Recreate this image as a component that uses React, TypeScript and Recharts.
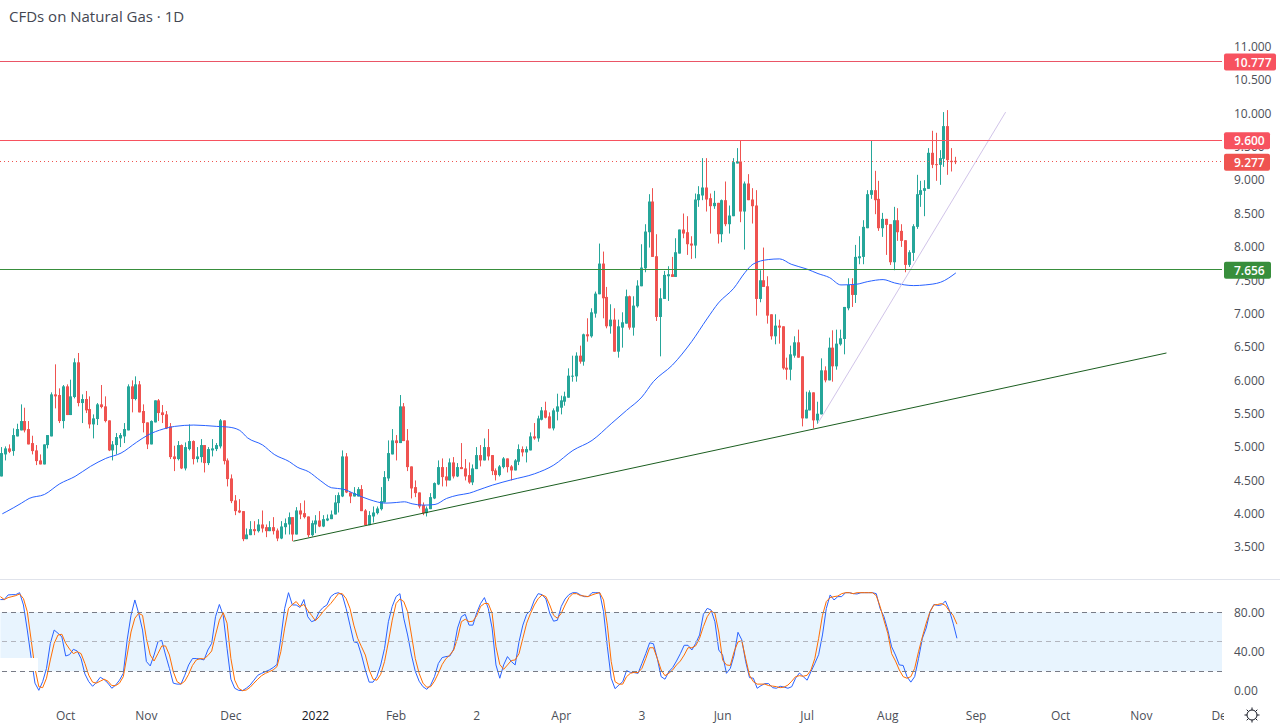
import { Bar, ComposedChart, Line, ReferenceArea, ReferenceLine, XAxis, YAxis } from "recharts"

const opens = [
  4.56,4.89,4.98,4.94,5.16,5.25,5.39,5.27,5.06,4.95,
  4.80,4.74,5.03,5.16,5.79,5.78,5.39,5.91,5.48,5.75,
  6.27,5.66,5.72,5.57,5.34,5.42,5.64,5.61,5.40,4.95,
  5.03,5.13,5.16,5.25,5.91,5.72,5.94,5.54,5.37,5.04,
  5.37,5.70,5.52,5.49,5.31,4.86,4.82,5.03,4.68,4.97,
  5.09,4.82,4.85,5.03,4.76,4.95,4.97,5.01,5.40,4.80,
  4.53,4.20,4.05,4.04,3.62,3.68,3.77,3.74,3.84,3.80,
  3.74,3.80,3.75,3.63,3.80,3.84,3.95,3.69,4.05,4.01,
  3.96,3.68,3.84,3.90,3.81,3.90,3.92,3.99,4.16,4.26,
  4.86,4.32,4.26,4.26,4.37,4.05,3.83,3.96,4.01,4.07,
  4.17,4.53,4.89,5.10,5.06,5.61,5.10,4.71,4.40,4.32,
  4.13,4.01,4.07,4.23,4.44,4.70,4.56,4.50,4.77,4.56,
  4.70,4.68,4.58,4.47,4.67,4.88,4.80,5.00,4.88,4.65,
  4.58,4.70,4.83,4.71,4.65,4.78,4.97,4.92,4.95,5.16,
  5.13,5.41,5.55,5.46,5.28,5.53,5.59,5.68,5.74,6.06,
  6.06,6.37,6.28,6.69,6.66,7.00,7.29,7.75,7.25,6.81,
  6.91,6.43,6.79,6.85,7.26,6.79,7.11,7.41,7.68,8.22,
  8.68,7.86,6.95,7.22,7.56,7.59,7.55,7.90,8.26,8.22,
  8.05,8.02,8.70,8.77,8.89,8.73,8.61,8.66,8.19,8.70,
  8.34,8.46,9.25,9.28,8.53,8.95,8.71,8.62,7.22,7.50,
  7.41,6.99,6.66,6.82,6.81,6.19,6.16,6.37,6.57,6.36,
  5.43,5.55,5.82,5.40,5.49,6.15,6.00,6.49,6.21,6.54,
  6.62,7.08,7.43,7.28,7.83,7.85,8.28,8.78,8.85,8.72,
  8.28,8.42,8.34,7.77,8.40,8.24,8.10,7.73,7.91,8.30,
  8.78,8.84,8.87,9.41,9.24,9.23,9.32,9.81,9.29,9.29,
]
const highs = [
  5.00,5.01,5.04,5.28,5.35,5.64,5.59,5.39,5.17,5.03,
  4.89,5.04,5.18,5.82,6.24,5.88,5.93,5.94,6.01,6.33,
  6.41,5.79,5.84,5.76,5.49,5.66,5.93,5.76,5.40,5.09,
  5.21,5.21,5.36,5.94,6.00,6.06,5.99,5.64,5.37,5.40,
  5.70,5.72,5.63,5.54,5.36,5.02,5.09,5.04,5.07,5.34,
  5.10,5.00,5.12,5.03,5.00,5.12,5.06,5.42,5.40,4.83,
  4.59,4.28,4.22,4.04,3.78,3.89,3.89,3.92,4.05,3.84,
  3.89,3.95,3.78,3.89,3.93,4.02,3.95,4.10,4.16,4.20,
  3.96,3.90,3.98,4.04,3.98,3.99,4.05,4.28,4.32,4.95,
  4.91,4.32,4.40,4.40,4.43,4.07,4.04,4.11,4.11,4.40,
  4.64,5.10,5.27,5.18,5.78,5.66,5.27,4.71,4.50,4.32,
  4.17,4.11,4.31,4.47,4.80,4.83,4.70,4.83,4.85,4.76,
  5.06,4.82,4.77,4.74,5.00,5.03,5.13,5.27,4.88,4.68,
  4.73,4.85,4.83,4.73,4.82,5.04,5.01,5.01,5.22,5.36,
  5.47,5.60,5.68,5.52,5.58,5.80,5.77,5.83,6.18,6.37,
  6.42,6.52,6.70,6.93,7.08,7.33,8.05,7.93,7.40,7.14,
  7.08,6.91,7.02,7.36,7.27,7.26,7.50,8.04,8.34,8.79,
  8.88,8.19,7.38,7.64,7.71,7.85,8.13,8.26,8.50,8.46,
  8.16,8.80,8.91,9.33,9.33,8.80,8.84,8.66,8.71,8.98,
  8.62,9.33,9.48,9.60,8.98,9.09,8.88,8.85,7.65,7.99,
  7.56,6.99,6.99,6.91,6.81,6.34,6.52,6.66,6.76,6.36,
  5.83,5.85,5.82,5.68,6.33,6.21,6.64,6.75,6.76,6.76,
  7.10,7.53,7.53,8.03,8.16,8.40,8.85,9.60,9.14,8.99,
  8.51,8.42,8.34,8.60,8.58,8.34,8.10,7.95,8.34,9.08,
  8.99,9.00,9.48,9.74,9.71,9.45,10.02,10.05,9.48,9.35,
]
const lows = [
  4.56,4.80,4.91,4.87,5.16,5.25,5.22,5.04,4.89,4.73,
  4.74,4.74,4.98,5.16,5.58,5.36,5.28,5.48,5.48,5.73,
  5.61,5.36,5.51,5.28,5.13,5.33,5.58,5.37,4.94,4.80,
  4.89,5.00,5.06,5.25,5.52,5.70,5.52,5.22,4.97,5.04,
  5.37,5.39,5.36,5.27,4.82,4.64,4.80,4.67,4.65,4.95,
  4.74,4.77,4.77,4.62,4.73,4.86,4.94,4.98,4.74,4.41,
  4.16,3.98,4.01,3.59,3.62,3.68,3.68,3.72,3.72,3.65,
  3.74,3.69,3.59,3.62,3.69,3.69,3.59,3.69,3.92,3.93,
  3.65,3.66,3.71,3.80,3.80,3.89,3.92,3.99,4.02,4.25,
  4.31,4.16,4.26,4.26,4.04,3.83,3.83,3.87,3.99,4.05,
  4.17,4.49,4.89,4.80,5.06,5.09,4.64,4.23,4.25,4.08,
  3.98,3.96,4.07,4.22,4.43,4.41,4.41,4.50,4.53,4.55,
  4.67,4.50,4.45,4.43,4.67,4.71,4.80,4.80,4.58,4.50,
  4.56,4.68,4.62,4.50,4.65,4.73,4.86,4.77,4.95,5.11,
  5.08,5.40,5.43,5.28,5.25,5.40,5.49,5.62,5.74,5.98,
  5.98,6.25,6.22,6.58,6.64,6.94,7.29,6.93,6.78,6.70,
  6.43,6.34,6.49,6.85,6.76,6.67,7.09,7.41,7.62,7.99,
  7.85,6.89,6.36,7.22,7.19,7.55,7.55,7.90,8.13,7.88,
  7.82,7.83,8.60,8.70,8.53,8.20,8.57,8.05,8.07,8.31,
  8.20,8.46,9.25,8.37,7.96,8.70,8.35,6.97,7.17,7.40,
  6.85,6.61,6.54,6.55,6.16,6.01,6.00,6.34,6.34,5.31,
  5.43,5.55,5.28,5.35,5.49,5.97,6.00,5.98,6.16,6.52,
  6.39,7.05,7.10,7.16,7.74,7.74,8.28,8.72,8.49,8.24,
  8.15,7.88,7.73,7.65,8.09,8.00,7.62,7.70,7.79,8.27,
  8.60,8.46,8.87,9.18,8.99,8.93,9.20,9.08,9.13,9.24,
]
const closes = [
  4.91,4.98,4.93,5.18,5.27,5.39,5.25,5.04,4.94,4.79,
  4.74,5.04,5.18,5.79,5.76,5.39,5.91,5.48,5.76,6.27,
  5.66,5.72,5.55,5.34,5.43,5.64,5.60,5.39,4.95,5.04,
  5.15,5.18,5.27,5.91,5.72,5.94,5.52,5.36,5.04,5.39,
  5.70,5.51,5.48,5.28,4.85,4.82,5.03,4.68,5.00,5.09,
  4.82,4.86,5.03,4.76,4.97,4.98,5.03,5.40,4.79,4.52,
  4.19,4.04,4.02,3.62,3.69,3.77,3.74,3.84,3.78,3.74,
  3.80,3.74,3.63,3.81,3.86,3.95,3.69,4.05,3.99,3.95,
  3.68,3.86,3.90,3.81,3.92,3.93,3.99,4.17,4.28,4.86,
  4.32,4.26,4.31,4.37,4.04,3.83,3.98,4.02,4.08,4.19,
  4.55,4.91,5.10,5.06,5.61,5.09,4.70,4.38,4.31,4.11,
  4.01,4.08,4.25,4.46,4.70,4.55,4.50,4.77,4.56,4.70,
  4.67,4.56,4.47,4.68,4.88,4.80,5.00,4.86,4.64,4.58,
  4.71,4.83,4.70,4.65,4.80,4.97,4.92,4.97,5.16,5.13,
  5.43,5.55,5.44,5.28,5.55,5.61,5.70,5.76,6.07,6.07,
  6.37,6.28,6.69,6.66,7.02,7.30,7.75,7.23,6.81,6.91,
  6.43,6.81,6.87,7.26,6.79,7.12,7.42,7.69,8.23,8.68,
  7.85,6.95,7.23,7.58,7.59,7.55,7.92,8.26,8.20,8.04,
  8.02,8.71,8.79,8.89,8.71,8.61,8.66,8.19,8.70,8.34,
  8.47,9.27,9.28,8.53,8.95,8.70,8.61,7.22,7.50,7.40,
  6.97,6.66,6.82,6.79,6.18,6.16,6.39,6.57,6.34,5.43,
  5.56,5.82,5.40,5.50,6.15,6.00,6.49,6.21,6.55,6.63,
  7.10,7.43,7.28,7.85,7.86,8.30,8.79,8.85,8.70,8.28,
  8.42,8.33,7.77,8.40,8.22,8.09,7.73,7.92,8.31,8.79,
  8.85,8.88,9.41,9.23,9.23,9.33,9.81,9.30,9.27,9.27,
]

const maAt = [
  0,1,5,7,11,15,19,23,27,31,35,38,42,45,50,56,59,62,64,68,71,75,77,80,83,86,89,92,96,100,103,105,107,110,113,116,119,122,124,
  128,133,139,144,149,154,159,163,167,170,175,180,184,187,191,194,196,200,203,206,210,213,216,219,223,226,230,233,238,241,245,249,
]
const maValues = [
  4.00,4.03,4.16,4.23,4.29,4.45,4.56,4.71,4.83,4.91,5.07,5.18,5.27,5.31,5.33,5.31,5.30,5.25,5.14,5.03,4.89,4.78,4.70,4.63,4.50,4.39,4.37,4.30,4.21,4.16,4.17,4.18,4.15,4.13,4.14,4.23,4.28,4.31,4.35,
  4.43,4.51,4.60,4.73,4.95,5.10,5.35,5.55,5.75,5.98,6.23,6.58,6.92,7.16,7.38,7.62,7.74,7.81,7.82,7.74,7.67,7.60,7.54,7.43,7.44,7.48,7.51,7.46,7.42,7.43,7.47,7.61,
]

const stochK = [
  93,93,97.7,98,98,100,87.5,62,34,8,0.7,9.5,23,48.5,62,58.7,55,35.6,37,42.4,
  40.7,33,17.3,9.5,4.8,8.8,14,11.6,8,2.8,6,11,18,52,77,92.6,79,62,30,25.5,
  36.6,50,51.5,36.6,23,8,7,7,16,26.5,33,33,32.6,31.6,41.7,48.5,75.6,88,77,43.4,
  12,2.8,0.7,0.4,2.8,6,11,16,18,19.7,21.4,23.8,27,53.6,84,100,87.5,87.5,85,93,
  75.6,70.5,72,80.7,85,87.5,96,99,100,97.7,84,67,50,49,36.6,21.4,9,9,14.6,26.5,
  43.4,70.5,86,96,99,74,57,36.6,20,10,4.4,1.7,6,14.6,28,34,35,35.6,42.7,64,
  75.6,78,67,67,79.7,89,95,84,64,26.5,13,26.5,35,30,26.5,50,67,78,82,92.6,
  99,98,93.6,79,71,72,86,93.6,98,100,100,97.7,96,96,100,100,100,80.7,45,13,
  2.4,6,9.5,20.7,19,18.7,18,28,38,49,48,33,14.6,12,19.7,23.8,30.5,38,46.5,46.5,
  41.7,48.5,57,78,84,82.4,70.5,41.7,36.6,18,23,36.6,59.7,52,30,13.6,13,2.8,5.5,7.5,
  7.5,3.4,2.8,4.8,4,2.8,4.4,13,18.3,14.6,11,19.7,28,37,57,84,97.7,92.6,96,96,
  100,100,99,98.7,100,100,100,100,99,84,75.6,62,45,36.6,26.5,26,14.6,9,14.6,33,
  53.6,64,80.7,88,87,87.5,91.6,82.4,69,53.6,
]
const stochD = [
  96,93,95,96,97,98.7,94,80.7,52,23,4.4,3.4,13,31.6,48.5,57,57.7,48.5,42.7,38,
  40,38,28,16,9,8,10,12,10,5.5,5.5,8,14.6,36.6,60,74,79,77,53.6,36.6,
  30.5,38,45.8,45.8,36.6,19.7,9.5,7,10,17,26,31.6,33,32.6,36,40.7,57,72,79.7,69,
  33,11,2.8,0.4,1,3.8,8,12,15.6,18,19.7,21.4,24.8,40,64,84,88,91,86,88,
  82,77,71.5,75.6,80.7,85,89,94,99,99,94,84,67,53.6,45,36.6,21.4,12,11,17,
  30,50,72,89,93.6,91,80.7,57,33,18,8,3.8,4.4,10,18,27,33,36.6,41.7,53.6,
  70.5,73,70.5,71,76.6,86,89,89,79,45,27,22,26.5,31,31.6,38,53.6,69,79,87.5,
  94,97.7,96,87.5,77,74,79,87.5,95,99,99,97,96.6,96,97.7,99,100,92.6,67,30,
  9.5,7,7,14.6,18,19,18.7,23,33,44,44,33,21.4,15.6,18,21.4,26.5,30.5,36.6,44,
  44,46,53.6,65.5,75.6,81.4,79,60,31.6,26.5,26,40,50,51,33,16,9.5,7,7,7,
  5.5,5,4.4,3.4,4,6,10,14.6,15.6,15,16,21.4,33,53.6,77,91,95,96,96.6,99,
  100,100,99,100,100,100,100,100,97,86,72,58.7,38,30.5,21.4,14.6,13,14.6,23,40,
  55,69,80.7,87.5,88,89,87,81.4,77,68,
]

const priceTicks = [3.5, 4, 4.5, 5, 5.5, 6, 6.5, 7, 7.5, 8, 8.5, 9, 9.5, 10, 10.5, 11]
const stochTicks = [0, 40, 80]
const monthAt = [17, 38, 60, 82, 103, 124, 146, 167, 188, 210, 231, 254, 276, 297, 318]
const monthNames = ["Oct", "Nov", "Dec", "2022", "Feb", "2", "Apr", "3", "Jun", "Jul", "Aug", "Sep", "Oct", "Nov", "Dec"]

const slots = 319
const font = "'Open Sans', sans-serif"
const priceDomain = [3.023, 11.7]

const rows = Array.from({ length: slots }, (_, i) => {
  const ma = maAt.indexOf(i)
  return {
    i,
    open: opens[i],
    high: highs[i],
    low: lows[i],
    close: closes[i],
    ma: ma >= 0 ? maValues[ma] : null,
    k: stochK[i],
    d: stochD[i],
  }
})

function Candle(props: any) {
  const { x, y, width, height, payload } = props
  if (payload.open === undefined || !height) return null
  const up = payload.close >= payload.open
  const color = up ? "#26a69a" : "#ef5350"
  const perUnit = height / (payload.high - payload.low)
  const top = y + (payload.high - Math.max(payload.open, payload.close)) * perUnit
  const body = Math.max(Math.abs(payload.close - payload.open) * perUnit, 1)
  const mid = Math.round(x + width / 2 - 0.5) + 0.5
  return (
    <g>
      <line x1={mid} x2={mid} y1={y} y2={y + height} stroke={color} />
      <rect x={mid - 1.5} y={top} width={3} height={body} fill={color} />
    </g>
  )
}

function PriceTag({ viewBox, text, fill, w }: any) {
  const right = viewBox.x + viewBox.width
  return (
    <g>
      <rect x={right + 2} y={viewBox.y - 8} width={w} height={17} rx={2} fill={fill} />
      <text x={right + 12} y={viewBox.y + 5} fontFamily={font} fontSize={12} fontWeight={600} fill="#fff">
        {text}
      </text>
    </g>
  )
}

function MonthTick({ x, y, payload }: any) {
  const name = monthNames[monthAt.indexOf(payload.value)]
  return (
    <text x={x} y={y} dy="0.71em" textAnchor="middle" fontFamily={font} fontSize={12} fill={name === "2022" ? "#131722" : "#4c4f58"}>
      {name}
    </text>
  )
}

const axisText = { fill: "#4c4f58", fontSize: 12, fontFamily: font }

export default function App() {
  return (
    <div style={{ position: "absolute", left: 0, top: 0, width: 1280, height: 728, background: "#fff", overflow: "hidden" }}>
      <ComposedChart width={1280} height={579} data={rows} margin={{ top: 0, right: 0, bottom: 0, left: 0.4 }} style={{ position: "absolute", left: 0, top: 0 }}>
        <XAxis dataKey="i" hide />
        <YAxis
          orientation="right"
          domain={priceDomain}
          ticks={priceTicks}
          width={58}
          axisLine={false}
          tickLine={false}
          tick={axisText}
          tickFormatter={(v) => v.toFixed(3)}
          tickMargin={6}
          allowDataOverflow
        />
        <Bar dataKey={(d: any) => (d.open === undefined ? null : [d.low, d.high])} barSize={3} shape={<Candle />} isAnimationActive={false} />
        <Line dataKey="ma" type="monotone" stroke="#2962ff" strokeWidth={1} dot={false} connectNulls isAnimationActive={false} />
        <ReferenceLine segment={[{ x: 76, y: 3.59 }, { x: 304, y: 6.41 }]} stroke="#1b5e20" />
        <ReferenceLine segment={[{ x: 213, y: 5.36 }, { x: 262, y: 10.02 }]} stroke="#d1c4e9" />
      </ComposedChart>

      {/* levels sit in their own layer so the tags cover the 9.500 and 7.500 ticks */}
      <ComposedChart width={1280} height={579} data={rows} margin={{ top: 0, right: 58, bottom: 0, left: 0.4 }} style={{ position: "absolute", left: 0, top: 0 }}>
        <XAxis dataKey="i" hide />
        <YAxis hide domain={priceDomain} allowDataOverflow />
        <ReferenceLine y={10.777} stroke="#ea5566" shapeRendering="crispEdges" label={<PriceTag text="10.777" fill="#f7525f" w={52} />} />
        <ReferenceLine y={9.6} stroke="#f7525f" shapeRendering="crispEdges" label={<PriceTag text="9.600" fill="#f7525f" w={46} />} />
        <ReferenceLine y={9.277} stroke="#ef5350" strokeDasharray="1 3" shapeRendering="crispEdges" label={<PriceTag text="9.277" fill="#ef5350" w={46} />} />
        <ReferenceLine y={7.656} stroke="#388e3c" shapeRendering="crispEdges" label={<PriceTag text="7.656" fill="#388e3c" w={47} />} />
      </ComposedChart>

      <div style={{ position: "absolute", left: 9, top: 6, fontFamily: font, fontSize: 15, color: "#434651", lineHeight: "20px" }}>
        CFDs on Natural Gas · 1D
      </div>

      <div style={{ position: "absolute", left: 0, top: 579, width: 1280, height: 1, background: "#e0e3eb" }} />

      <ComposedChart width={1280} height={148} data={rows} margin={{ top: 0, right: 0, bottom: 0, left: 0.4 }} style={{ position: "absolute", left: 0, top: 580 }}>
        <XAxis dataKey="i" height={25} axisLine={false} tickLine={false} ticks={monthAt} interval={0} tick={<MonthTick />} />
        <YAxis
          orientation="right"
          domain={[-12.2, 112.9]}
          ticks={stochTicks}
          width={58}
          axisLine={false}
          tickLine={false}
          tick={axisText}
          tickFormatter={(v) => v.toFixed(2)}
          tickMargin={6}
          allowDataOverflow
        />
        <ReferenceArea y1={20} y2={80} fill="#2196f3" fillOpacity={0.1} stroke="none" />
        <Line dataKey="k" stroke="#2962ff" strokeWidth={1} dot={false} isAnimationActive={false} />
        <Line dataKey="d" stroke="#ff6d00" strokeWidth={1} dot={false} isAnimationActive={false} />
        <ReferenceLine y={80} stroke="#787b86" strokeDasharray="5 4" shapeRendering="crispEdges" />
        <ReferenceLine y={50} stroke="#b2b5be" strokeDasharray="5 4" shapeRendering="crispEdges" />
        <ReferenceLine y={20} stroke="#787b86" strokeDasharray="5 4" shapeRendering="crispEdges" />
      </ComposedChart>

      {/* white patch over the band, low left, and the cut-off last month label */}
      <div style={{ position: "absolute", left: 0, top: 658, width: 38, height: 13, background: "#fff" }} />
      <div style={{ position: "absolute", left: 1224, top: 704, width: 56, height: 24, background: "#fff" }} />

      <svg width={20} height={20} style={{ position: "absolute", left: 1242, top: 705 }} viewBox="0 0 20 20" fill="none" stroke="#131722" strokeWidth={1}>
        <circle cx={10} cy={10} r={5} />
        <path d="M10 2.5V5M10 15v2.5M2.5 10H5M15 10h2.5M4.7 4.7l1.8 1.8M13.5 13.5l1.8 1.8M15.3 4.7l-1.8 1.8M6.5 13.5l-1.8 1.8" />
      </svg>
    </div>
  )
}
